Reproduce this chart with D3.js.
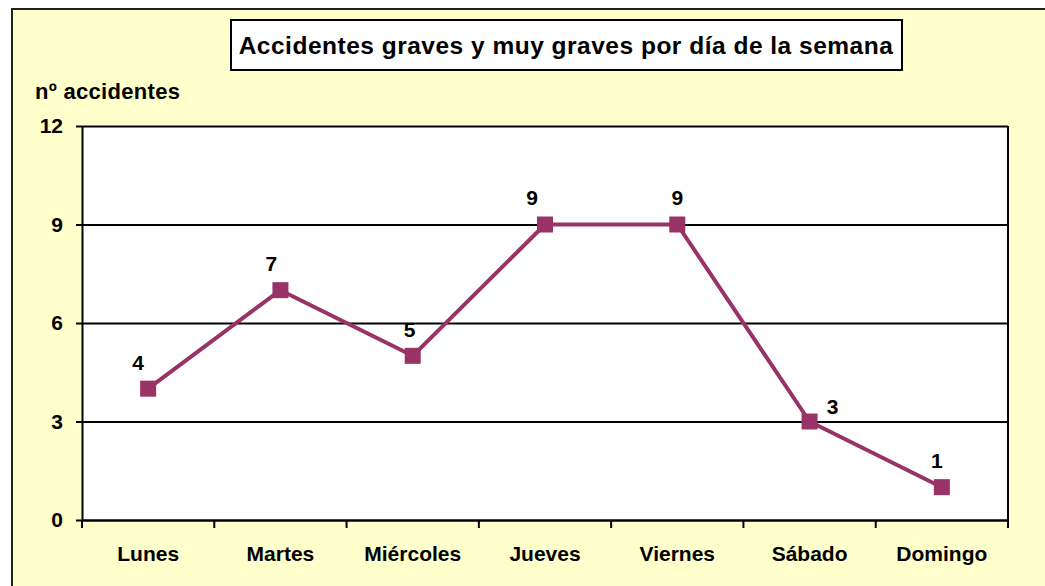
<!DOCTYPE html>
<html>
<head>
<meta charset="utf-8">
<script src="https://cdn.jsdelivr.net/npm/d3@7"></script>
<style>
  html, body { margin: 0; padding: 0; background: #fff; }
  svg { display: block; font-family: "Liberation Sans", Arial, sans-serif; }
</style>
</head>
<body>
<svg width="1045" height="586"></svg>
<script>
const days = ["Lunes", "Martes", "Miércoles", "Jueves", "Viernes", "Sábado", "Domingo"];
const accidents = [4, 7, 5, 9, 9, 3, 1];
const yTicks = [0, 3, 6, 9, 12];
const labelDx = [-10, -9, -3, -13, 0, 23, -5];
const labelDy = [-19, -19, -19, -20, -20, -8, -19];

const title = "Accidentes graves y muy graves por día de la semana";
const yTitle = "nº accidentes";

function draw() {
    let svg = d3.select("svg");
    let width = +svg.attr("width");
    let height = +svg.attr("height");

    const plot = {left: 82, top: 126, right: 1008, bottom: 520};
    const lineColor = "#993366";

    // chart panel
    svg.append("rect")
        .attr("x", 12).attr("y", 9)
        .attr("width", width + 10).attr("height", height + 10)
        .attr("fill", "#ffffcc")
        .attr("stroke", "#222")
        .attr("stroke-width", 2);

    // title box
    let tb = svg.append("g");
    tb.append("rect")
        .attr("x", 231).attr("y", 20)
        .attr("width", 671).attr("height", 50)
        .attr("fill", "#fff")
        .attr("stroke", "#000")
        .attr("stroke-width", 2);
    tb.append("text")
        .attr("x", 566).attr("y", 54)
        .attr("text-anchor", "middle")
        .style("font-size", "24.5px")
        .style("font-weight", "bold")
        .style("letter-spacing", "0.5px")
        .text(title);

    svg.append("text")
        .attr("x", 35).attr("y", 99)
        .style("font-size", "22px")
        .style("font-weight", "bold")
        .style("letter-spacing", "0.3px")
        .text(yTitle);

    let x = d3.scaleBand().domain(days).range([plot.left, plot.right]);
    let y = d3.scaleLinear().domain([0, 12]).range([plot.bottom, plot.top]);

    svg.append("rect")
        .attr("x", plot.left).attr("y", plot.top)
        .attr("width", plot.right - plot.left)
        .attr("height", plot.bottom - plot.top)
        .attr("fill", "#fff");

    // gridlines
    svg.append("g")
        .attr("transform", `translate(${plot.left},0)`)
        .call(d3.axisLeft(y).tickValues(yTicks.slice(1)).tickSize(-(plot.right - plot.left)).tickFormat(""))
        .call(g => g.select(".domain").remove())
        .selectAll("line")
        .attr("stroke", "#000")
        .attr("stroke-width", 2);

    // right border
    svg.append("line")
        .attr("x1", plot.right).attr("x2", plot.right)
        .attr("y1", plot.top).attr("y2", plot.bottom)
        .attr("stroke", "#000").attr("stroke-width", 2);

    // y axis
    let yAxis = svg.append("g")
        .attr("transform", `translate(${plot.left},0)`)
        .call(d3.axisLeft(y).tickValues(yTicks).tickSize(6).tickSizeOuter(0).tickPadding(13));
    yAxis.select(".domain").attr("stroke", "#000").attr("stroke-width", 2);
    yAxis.selectAll("line").attr("stroke", "#000").attr("stroke-width", 2);
    yAxis.selectAll("text")
        .style("font-size", "21px")
        .style("font-weight", "bold")
        .attr("fill", "#000");

    // x axis
    let xAxis = svg.append("g")
        .attr("transform", `translate(0,${plot.bottom})`)
        .call(d3.axisBottom(x).tickSize(0).tickSizeOuter(0).tickPadding(26));
    xAxis.select(".domain").attr("stroke", "#000").attr("stroke-width", 2.5);
    xAxis.selectAll("text")
        .style("font-size", "21px")
        .style("font-weight", "bold")
        .attr("fill", "#000");

    let bounds = days.map(d => x(d)).concat([plot.right]);
    xAxis.selectAll(".bound")
        .data(bounds)
        .enter()
        .append("line")
        .attr("class", "bound")
        .attr("x1", d => d).attr("x2", d => d)
        .attr("y1", 0).attr("y2", 8)
        .attr("stroke", "#000")
        .attr("stroke-width", 2);

    let cx = (d, i) => x(days[i]) + x.bandwidth() / 2;

    svg.append("path")
        .datum(accidents)
        .attr("fill", "none")
        .attr("stroke", lineColor)
        .attr("stroke-width", 4)
        .attr("stroke-linejoin", "round")
        .attr("d", d3.line().x(cx).y(d => y(d)));

    svg.selectAll(".marker")
        .data(accidents)
        .enter()
        .append("rect")
        .attr("class", "marker")
        .attr("x", (d, i) => cx(d, i) - 8)
        .attr("y", d => y(d) - 8)
        .attr("width", 16).attr("height", 16)
        .attr("fill", lineColor);

    svg.selectAll(".vlabel")
        .data(accidents)
        .enter()
        .append("text")
        .attr("class", "vlabel")
        .attr("x", (d, i) => cx(d, i) + labelDx[i])
        .attr("y", (d, i) => y(d) + labelDy[i])
        .attr("text-anchor", "middle")
        .style("font-size", "21px")
        .style("font-weight", "bold")
        .text(d => d);
}

draw();
</script>
</body>
</html>
